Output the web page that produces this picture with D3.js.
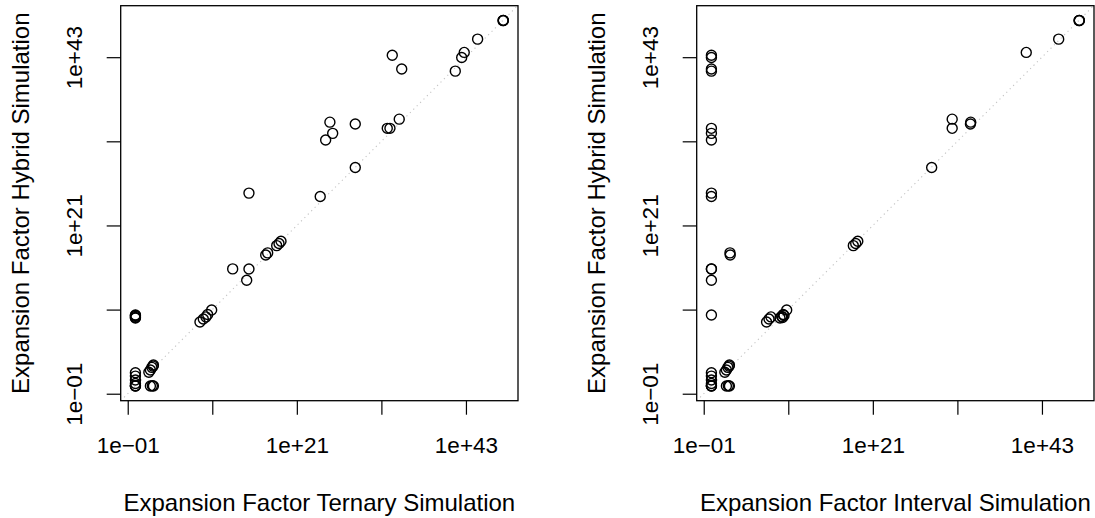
<!DOCTYPE html>
<html>
<head>
<meta charset="utf-8">
<script src="https://cdn.jsdelivr.net/npm/d3@7"></script>
<style>
  body { margin: 0; background: #fff; }
  svg { display: block; font-family: "Liberation Sans", Arial, Helvetica, sans-serif; }
</style>
</head>
<body>
<svg id="chart" width="1095" height="518"></svg>
<script>
// Expansion factors per benchmark run (one entry per run, same order in all arrays)
const hybrid = [
  6.3e47, 6.0e47, 6.6e47, 2.3e45, 4.2e43, 1.8e43, 9.1e42, 2.8e41, 1.5e41,
  7.9e34, 3.2e34, 1.8e34, 5.0e33, 5.0e33, 1.1e33, 1.5e32, 3.7e28, 1.7e25, 6.0e24,
  2.1e15, 2.0e15, 6.9e13, 2.6e17, 1.4e17, 2.3e18, 4.3e18, 8.7e18,
  2.4e8, 6.0e8, 1.1e9, 2.3e9, 8.9e9, 8.1e8, 1.3e9, 1.7e9, 2.0e9, 9.3e8,
  1, 1.05, 1.12, 2.2, 6.3, 20, 56, 1, 1.12, 1, 63, 126, 280, 560, 400
];
const ternary = [
  7.1e47, 6.8e47, 7.2e47, 3.3e44, 6.0e42, 2.6e33, 2.8e42, 4.4e34, 4.1e41,
  2.1e34, 2.0e25, 4.0e28, 5.8e32, 1.3e33, 4.6e25, 5.6e24, 4.0e28, 5.9e14, 1.1e24,
  4.5e12, 5.9e14, 3.0e14, 1.6e17, 8.9e16, 2.4e18, 4.8e18, 8.7e18,
  2.5e8, 6.8e8, 1.5e9, 2.5e9, 8.3e9, 1, 1, 1, 1, 1,
  1, 1, 1, 1, 1, 1, 1, 89, 160, 220, 56, 89, 140, 220, 200
];
const interval = [
  7.1e47, 6.9e47, 7.2e47, 1.5e45, 9.1e40, 1, 1, 1, 1,
  2.1e31, 5.4e33, 5.0e33, 2.1e31, 1, 1, 1, 4.5e28, 1, 1,
  1, 1, 1, 2.6e2, 2.8e2, 2.9e18, 5.9e18, 1.1e19,
  1.5e7, 3.1e7, 5.6e7, 2.2e9, 6.2e9, 8.3e8, 1.4e9, 2.8e9, 1, 1.8e9,
  1, 1, 1, 1, 1, 1, 1, 89, 160, 220, 56, 89, 140, 220, 200
];

const tickValues = [1e-1, 1e10, 1e21, 1e32, 1e43];
const tickLabels = ["1e\u221201", "", "1e+21", "", "1e+43"];
const yTitle = "Expansion Factor Hybrid Simulation";
const xTitles = ["Expansion Factor Ternary Simulation", "Expansion Factor Interval Simulation"];

const svg = d3.select("#chart");
svg.append("rect").attr("width", 1095).attr("height", 518).attr("fill", "#fff");

const TICK_FONT = 22.5, TITLE_FONT = 24;
const plotW = 397.3, plotH = 395, plotTop = 5.7;
const panelLefts = [120.7, 696.7];

// log-axis limits padded by 4% of the data range on each side
function logDomain(vals) {
  const e = d3.extent(vals, v => Math.log10(v));
  const pad = (e[1] - e[0]) * 0.04;
  return [Math.pow(10, e[0] - pad), Math.pow(10, e[1] + pad)];
}

[ternary, interval].forEach((xs, p) => {
  const left = panelLefts[p];
  const g = svg.append("g").attr("transform", `translate(${left},${plotTop})`);

  const x = d3.scaleLog().domain(logDomain(xs)).range([0, plotW]);
  const y = d3.scaleLog().domain(logDomain(hybrid)).range([plotH, 0]);

  const clipId = "clip" + p;
  g.append("clipPath").attr("id", clipId)
    .append("rect").attr("width", plotW).attr("height", plotH);

  // y = x reference line
  const lo = Math.max(x.domain()[0], y.domain()[0]);
  const hi = Math.min(x.domain()[1], y.domain()[1]);
  g.append("line")
    .attr("clip-path", `url(#${clipId})`)
    .attr("x1", x(lo)).attr("y1", y(lo))
    .attr("x2", x(hi)).attr("y2", y(hi))
    .attr("stroke", "#c4c4c4")
    .attr("stroke-width", 1.1)
    .attr("stroke-dasharray", "1.2,3.6");

  // points
  g.append("g").selectAll("circle")
    .data(d3.range(hybrid.length))
    .join("circle")
    .attr("cx", i => x(xs[i]))
    .attr("cy", i => y(hybrid[i]))
    .attr("r", 5)
    .attr("fill", "none")
    .attr("stroke", "#000")
    .attr("stroke-width", 1.4);

  // bottom axis
  const gx = g.append("g")
    .attr("transform", `translate(0,${plotH})`)
    .call(d3.axisBottom(x).tickValues(tickValues)
      .tickFormat((d, i) => tickLabels[i]).tickSize(14));
  gx.select(".domain").remove();
  gx.attr("font-family", null).attr("font-size", TICK_FONT);
  gx.selectAll("line").attr("stroke", "#000").attr("stroke-width", 1.2);
  gx.selectAll("text").attr("fill", "#000").attr("y", 52.6).attr("dy", null);

  // left axis with labels parallel to the axis
  const gy = g.append("g")
    .call(d3.axisLeft(y).tickValues(tickValues)
      .tickFormat((d, i) => tickLabels[i]).tickSize(14));
  gy.select(".domain").remove();
  gy.attr("font-family", null).attr("font-size", TICK_FONT);
  gy.selectAll("line").attr("stroke", "#000").attr("stroke-width", 1.2);
  gy.selectAll("text")
    .attr("fill", "#000")
    .attr("transform", "rotate(-90)")
    .attr("text-anchor", "middle")
    .attr("x", 0).attr("y", -39).attr("dy", null);

  // frame
  g.append("rect")
    .attr("width", plotW).attr("height", plotH)
    .attr("fill", "none").attr("stroke", "#000").attr("stroke-width", 1.3);

  // axis titles
  g.append("text")
    .attr("x", plotW / 2).attr("y", 505)
    .attr("text-anchor", "middle")
    .attr("font-size", TITLE_FONT)
    .text(xTitles[p]);

  g.append("text")
    .attr("transform", `translate(-91.4,${plotH / 2}) rotate(-90)`)
    .attr("text-anchor", "middle")
    .attr("font-size", TITLE_FONT)
    .text(yTitle);
});
</script>
</body>
</html>
